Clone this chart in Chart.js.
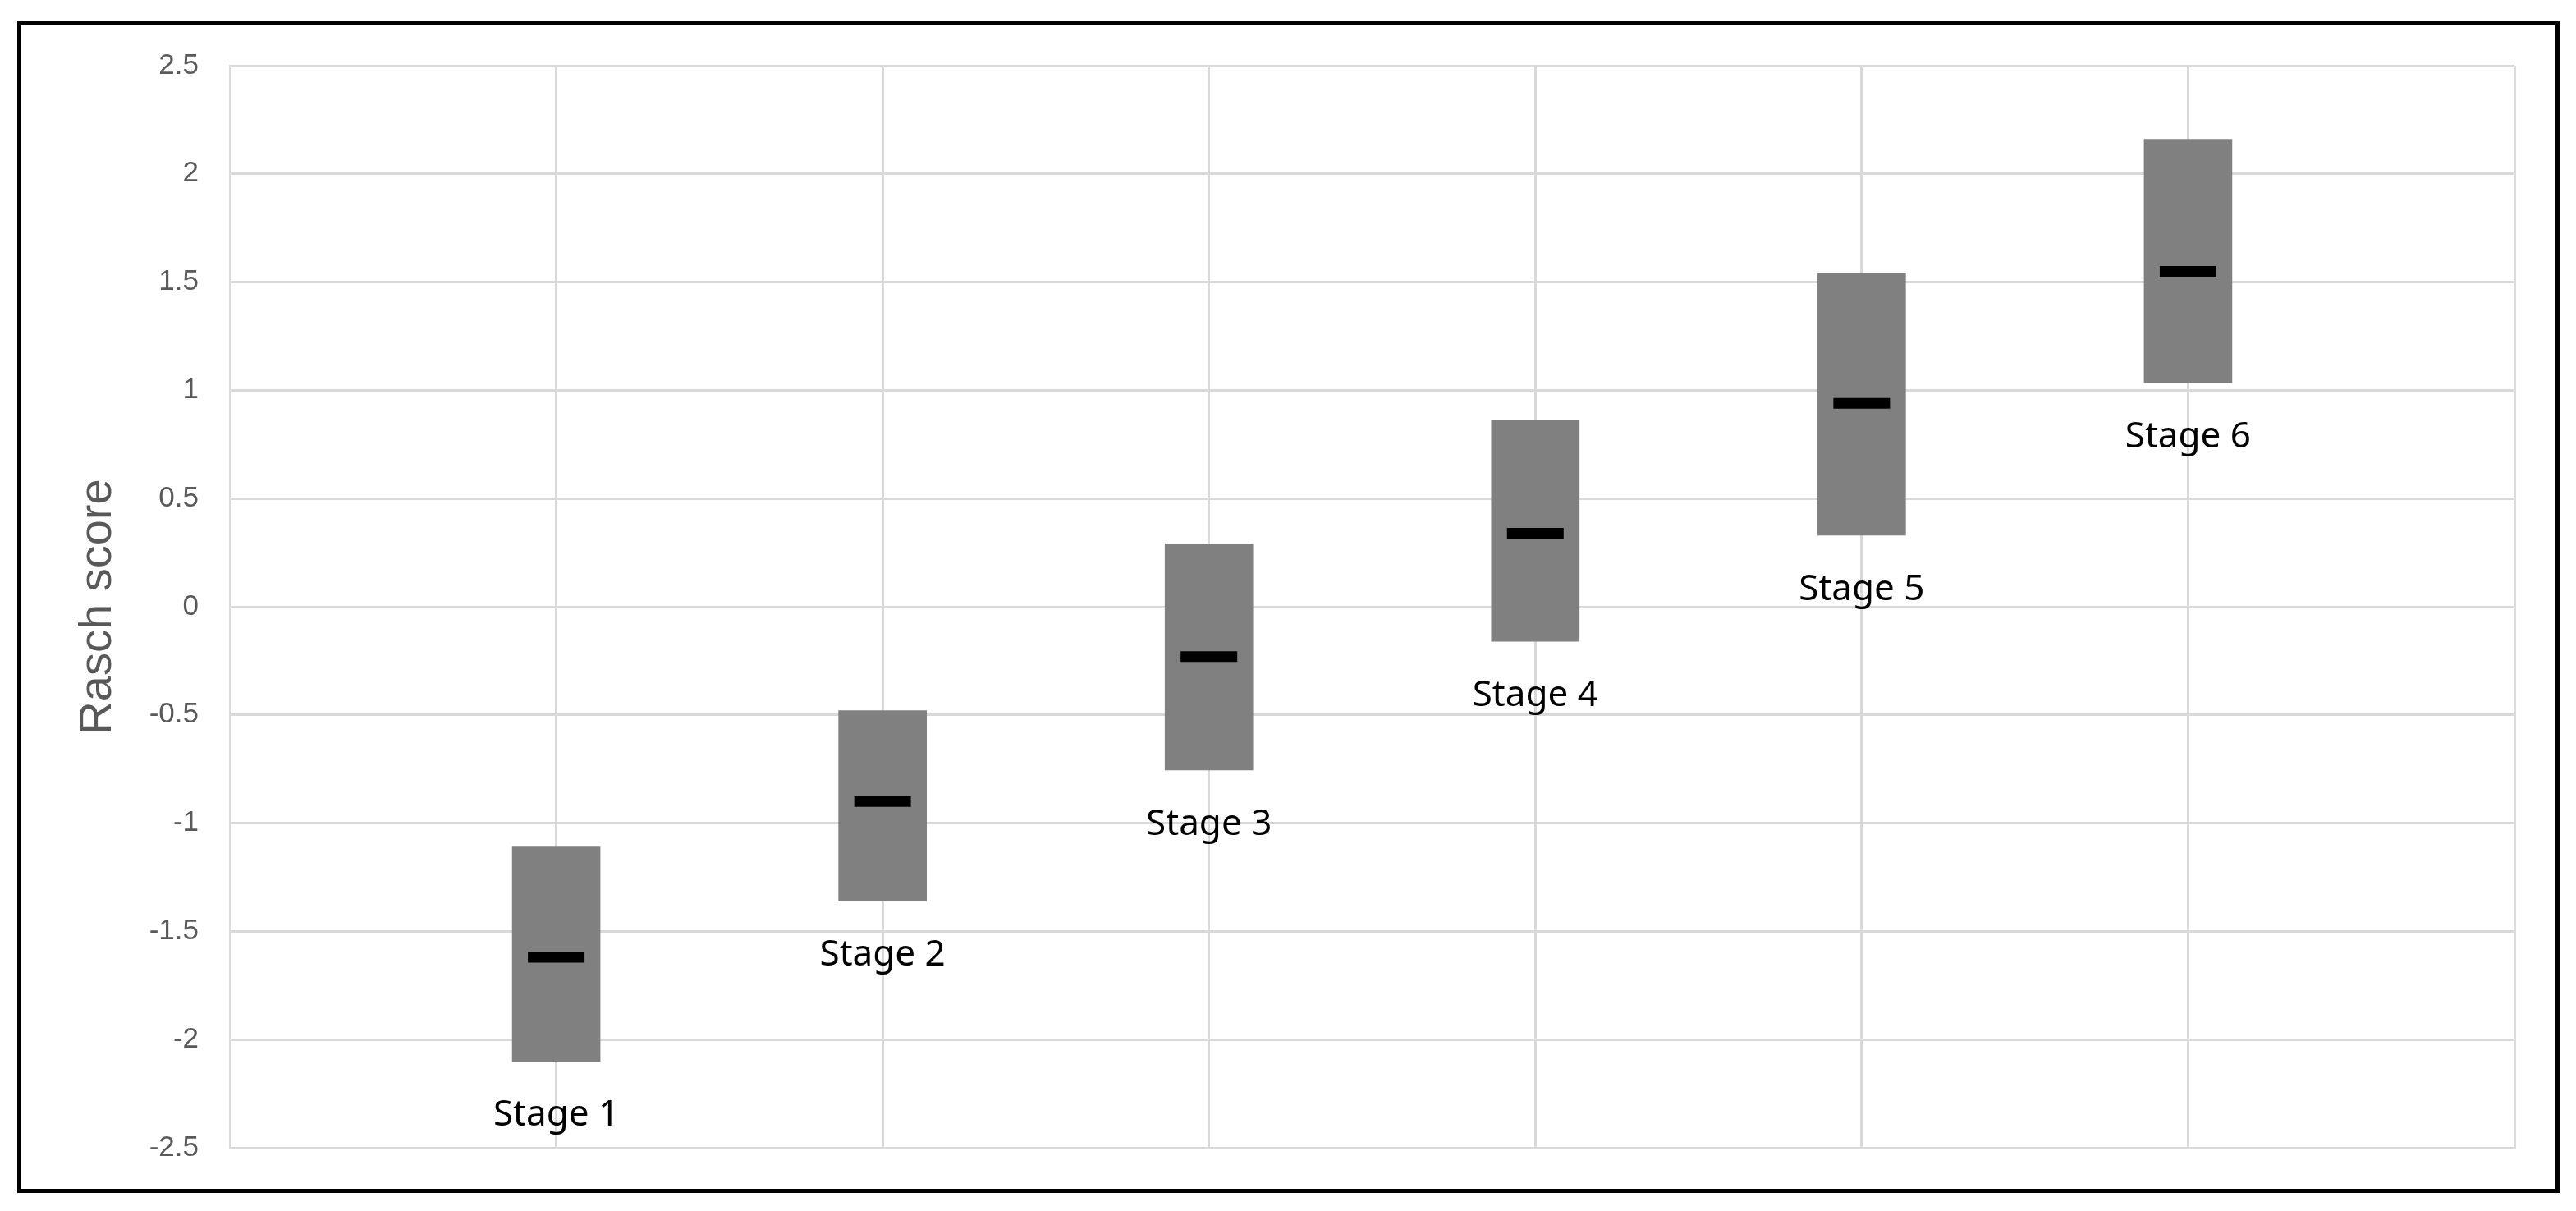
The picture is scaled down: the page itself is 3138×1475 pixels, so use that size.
<!DOCTYPE html>
<html>
<head>
<meta charset="utf-8">
<script src="https://cdn.jsdelivr.net/npm/chart.js@4"></script>
<style>
  body { margin: 0; background: #fff; }
  canvas { display: block; }
</style>
</head>
<body>
<canvas id="raschChart" width="3138" height="1475"></canvas>
<script>
// data
const stages = ['Stage 1', 'Stage 2', 'Stage 3', 'Stage 4', 'Stage 5', 'Stage 6'];
const stagePos = [1, 2, 3, 4, 5, 6];
const lowVals = [-2.10, -1.36, -0.755, -0.16, 0.33, 1.035];
const highVals = [-1.11, -0.48, 0.29, 0.86, 1.54, 2.16];
const meanVals = [-1.62, -0.90, -0.23, 0.34, 0.94, 1.55];

// outer frame
const framePlugin = {
    id: 'frame',
    afterDraw(chart) {
        const c = chart.ctx;
        c.save();
        c.strokeStyle = '#000';
        c.lineWidth = 5;
        c.strokeRect(23.5, 27.5, 3092, 1423);
        c.restore();
    }
};

// "Stage N" text under each bar
const stageLabels = {
    id: 'stageLabels',
    afterDatasetsDraw(chart) {
        const c = chart.ctx;
        const xs = chart.scales.x, ys = chart.scales.y;
        c.save();
        c.font = '44px "Noto Sans"';
        c.fillStyle = '#000';
        c.textAlign = 'center';
        c.textBaseline = 'middle';
        stages.forEach((s, i) => {
            c.fillText(s, xs.getPixelForValue(stagePos[i]), ys.getPixelForValue(lowVals[i]) + 66);
        });
        c.restore();
    }
};

const ctx = document.getElementById('raschChart').getContext('2d');

const chart = new Chart(ctx, {
    type: 'bar',
    data: {
        datasets: [{
            label: 'Range',
            data: stagePos.map((x, i) => ({ x: x, y: [lowVals[i], highVals[i]] })),
            backgroundColor: '#808080',
            barThickness: 107,
            grouped: false,
            order: 1
        }, {
            type: 'line',
            label: 'Mean',
            data: stagePos.map((x, i) => ({ x: x, y: meanVals[i] })),
            showLine: false,
            pointStyle: 'line',
            pointRadius: 34.5,
            pointHoverRadius: 34.5,
            pointBorderWidth: 13,
            borderColor: '#000',
            order: 0
        }]
    },
    options: {
        responsive: false,
        animation: false,
        layout: { padding: { left: 0, top: 80, right: 75, bottom: 77 } },
        plugins: {
            legend: { display: false },
            tooltip: { enabled: false }
        },
        scales: {
            x: {
                type: 'linear',
                min: 0,
                max: 7,
                offset: false,
                ticks: { display: false, stepSize: 1 },
                grid: { color: '#d9d9d9', lineWidth: 3, drawTicks: false, offset: false },
                border: { color: '#d9d9d9', width: 3 },
                afterFit(scale) { scale.height = 0; }
            },
            y: {
                min: -2.5,
                max: 2.5,
                ticks: {
                    stepSize: 0.5,
                    padding: 38,
                    color: '#595959',
                    font: { family: '"Liberation Sans", Arial, sans-serif', size: 35 },
                    callback: v => String(Math.round(v * 10) / 10)
                },
                grid: { color: '#d9d9d9', lineWidth: 3, drawTicks: false },
                border: { color: '#d9d9d9', width: 3 },
                title: {
                    display: true,
                    text: 'Rasch score',
                    color: '#595959',
                    font: { family: '"Liberation Sans", Arial, sans-serif', size: 56 },
                    padding: { top: 86, bottom: 0 }
                },
                afterFit(scale) { scale.width = 280; }
            }
        }
    },
    plugins: [framePlugin, stageLabels]
});
</script>
</body>
</html>
